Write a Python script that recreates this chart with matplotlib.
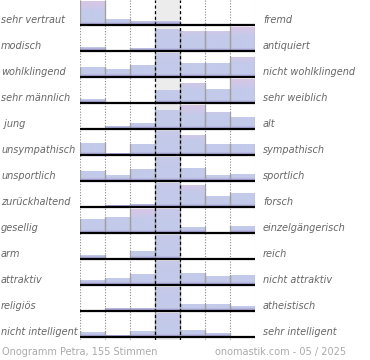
import numpy as np
import matplotlib
matplotlib.use("Agg")
import matplotlib.pyplot as plt
from matplotlib.colors import to_rgb

# ---- data ----
left_labels = ["sehr vertraut", "modisch", "wohlklingend", "sehr männlich", " jung",
               "unsympathisch", "unsportlich", "zurückhaltend", "gesellig", "arm",
               "attraktiv", "religiös", "nicht intelligent"]
right_labels = ["fremd", "antiquiert", "nicht wohlklingend", "sehr weiblich", "alt",
                "sympathisch", "sportlich", "forsch", "einzelgängerisch", "reich",
                "nicht attraktiv", "atheistisch", "sehr intelligent"]
# relative bar heights per row (row maximum = 100), 7 scale steps
row_vals = [
    [100, 23, 17, 17, 0, 0, 0],
    [17, 0, 12, 90, 83, 83, 100],
    [42, 33, 48, 100, 58, 58, 81],
    [15, 0, 6, 54, 81, 56, 100],
    [0, 12, 23, 79, 100, 71, 50],
    [48, 10, 44, 100, 81, 44, 44],
    [42, 23, 48, 100, 54, 25, 29],
    [4, 10, 14, 100, 90, 46, 58],
    [58, 67, 96, 100, 23, 0, 29],
    [15, 0, 31, 100, 2, 0, 0],
    [21, 27, 44, 100, 50, 35, 39],
    [0, 14, 14, 100, 28, 30, 21],
    [20, 7, 26, 100, 30, 15, 5],
]
footer_left = "Onogramm Petra, 155 Stimmen"
footer_right = "onomastik.com - 05 / 2025"

W, H = 370, 360
fig = plt.figure(figsize=(W / 100, H / 100), dpi=100)
ax = fig.add_axes([80 / W, (H - 340) / H, 175 / W, 340 / H])
ax.set_axis_off()

ROW = 26
BAR_MAX = 24.5

# background middle column & grid lines
ax.axvspan(3, 4, color="#ececec", zorder=0, lw=0)
for xv in [0, 1, 2, 5, 6, 7]:
    ax.plot([xv, xv], [0, 340], color="#8a8a8a", lw=0.8, ls=(0, (1, 1.5)), zorder=1)

c_base = np.array(to_rgb("#9a8ec8"))
c_blue = np.array(to_rgb("#c3caea"))
c_pink = np.array(to_rgb("#dcc5e6"))


def make_grad(pink_amount):
    n = 200
    t = np.linspace(0, 1, n)
    g = np.zeros((n, 1, 3))
    for k, tt in enumerate(t):
        px = tt * BAR_MAX
        if px < 3:
            c = c_base + (c_blue - c_base) * (px / 3)
        elif tt < 0.55:
            c = c_blue
        else:
            f = (tt - 0.55) / 0.45 * pink_amount
            c = c_blue + (c_pink - c_blue) * f
        g[k, 0] = c
    return g


grad_side = make_grad(1.0)
grad_mid = make_grad(0.25)

x = np.arange(7)
for i, vals in enumerate(row_vals):
    base = 340 - (25 + ROW * i)
    heights = np.array(vals) / 100 * BAR_MAX
    bars = ax.bar(x, heights, width=1, bottom=base, align="edge",
                  color="#c3caea", lw=0, zorder=2)
    for j, (b, h) in enumerate(zip(bars, heights)):
        if h <= 0:
            continue
        g = grad_mid if j == 3 else grad_side
        im = ax.imshow(g, extent=[0, 7, base, base + BAR_MAX], origin="lower",
                       aspect="auto", zorder=2.5, interpolation="bilinear")
        im.set_clip_path(b)
        x0 = b.get_x()
        ax.plot([x0, x0], [base, base + h], color="#a0a0a0", lw=0.9, zorder=3)
        ax.plot([x0 + 1, x0 + 1], [base, base + h], color="#a0a0a0", lw=0.9, zorder=3)
    ax.plot([0, 7], [base, base], color="black", lw=1.6, zorder=4, solid_capstyle="butt")
    yc = (H - (25 + ROW * i - 5)) / H
    fig.text(1 / W, yc, left_labels[i], ha="left", va="center", fontsize=7,
             style="italic", color="#666666")
    fig.text(263 / W, yc, right_labels[i], ha="left", va="center", fontsize=7,
             style="italic", color="#666666")

for xv in [3, 4]:
    ax.plot([xv, xv], [0, 340], color="black", lw=0.9, ls=(0, (2.5, 2)), zorder=5)

fig.text(2 / W, (H - 352) / H, footer_left, ha="left", va="center", fontsize=7,
         color="#aaaaaa")
fig.text(346 / W, (H - 352) / H, footer_right, ha="right", va="center", fontsize=7,
         color="#aaaaaa")

ax.set_xlim(0, 7)
ax.set_ylim(0, 340)
fig.savefig("out.png", dpi=100)
